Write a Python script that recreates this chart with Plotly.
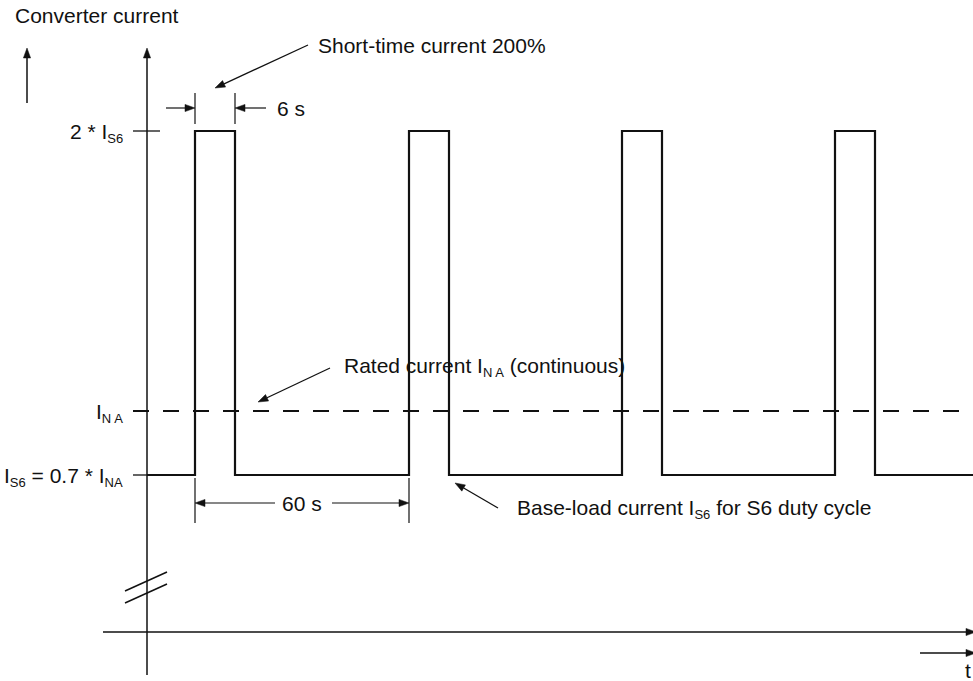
import numpy as np
import plotly.graph_objects as go

# Diagram units: 1 unit = 1 px, origin where the current and time axes cross.
pulse_starts = [48, 262, 475, 688]      # rising edges of the short-time pulses
pulse_width = 40                        # on-time drawn for each pulse (6 s)
t_end = 826                             # right end of the time axis
level_base = 157                        # I_S6 = 0.7 * I_NA
level_rated = 221                       # I_NA (continuous rated current)
level_peak = 501                        # 2 * I_S6


def sub(s):
    return f'<sub><span style="font-size:13px">{s}</span></sub>'


tick_labels = [f"2 * I{sub('S6')}", f"I{sub('N A')}", f"I{sub('S6')} = 0.7 * I{sub('NA')}"]
tick_levels = [level_peak, level_rated, level_base]

FONT = "Arial, Liberation Sans, sans-serif"
INK = "#111111"

# Build the duty-cycle waveform from the pulse list
wx, wy = [0], [level_base]
for s in pulse_starts:
    wx += [s, s, s + pulse_width, s + pulse_width]
    wy += [level_base, level_peak, level_peak, level_base]
wx.append(t_end)
wy.append(level_base)

fig = go.Figure()

# Rated current, dashed
fig.add_trace(go.Scatter(x=[-14, t_end], y=[level_rated, level_rated], mode="lines",
                         line=dict(color=INK, width=2, dash="16px,14px"),
                         hoverinfo="skip", showlegend=False))
# Converter current waveform
fig.add_trace(go.Scatter(x=wx, y=wy, mode="lines",
                         line=dict(color=INK, width=2.2),
                         hoverinfo="skip", showlegend=False))

shapes = []


def seg(x0, y0, x1, y1, w=1.3):
    shapes.append(dict(type="line", x0=x0, y0=y0, x1=x1, y1=y1, xref="x", yref="y",
                       line=dict(color=INK, width=w)))


def arrow(x0, y0, x1, y1, w=1.3, head=10.0, half=3.6):
    """Line from (x0,y0) to the tip (x1,y1) with a filled triangular head."""
    d = np.array([x1 - x0, y1 - y0], dtype=float)
    d /= np.hypot(*d)
    n = np.array([-d[1], d[0]])
    tip = np.array([x1, y1], dtype=float)
    base = tip - head * d
    a = base + half * n
    b = base - half * n
    seg(x0, y0, base[0], base[1], w)
    shapes.append(dict(type="path", xref="x", yref="y",
                       path=f"M{tip[0]:.2f},{tip[1]:.2f} L{a[0]:.2f},{a[1]:.2f} L{b[0]:.2f},{b[1]:.2f} Z",
                       fillcolor=INK, line=dict(color=INK, width=0.5)))


# Axes
arrow(0, -43, 0, 584, w=1.5)             # current axis
arrow(-44, 0, 829, 0, w=1.5)             # time axis
arrow(-120, 529, -120, 584, w=1.5)       # "Converter current" arrow
arrow(773, -21, 829, -21, w=1.5)         # "t" arrow

# Axis break marks
seg(-22, 41, 20, 60, 1.5)
seg(-22, 29, 20, 48, 1.5)

# Level ticks on the current axis
seg(-14, level_peak, 13, level_peak, 1.3)
seg(-14, level_base, 0, level_base, 1.3)

# 6 s dimension
p0 = pulse_starts[0]
seg(p0, 508, p0, 539, 1.2)
seg(p0 + pulse_width, 508, p0 + pulse_width, 539, 1.2)
arrow(19, 524, p0, 524, w=1.2)
arrow(119, 524, p0 + pulse_width, 524, w=1.2)

# 60 s dimension
p1 = pulse_starts[1]
seg(p0, 109, p0, 154, 1.2)
seg(p1, 109, p1, 154, 1.2)
arrow(128, 129, p0, 129, w=1.2)
arrow(185, 129, p1, 129, w=1.2)

# Callout arrows
arrow(161, 587, 68, 544, w=1.3)          # short-time current
arrow(183, 264, 111, 230, w=1.3)         # rated current
arrow(351, 124, 308, 149, w=1.3)         # base-load current

annotations = []


def label(x, y, text, xanchor="left", yshift=0):
    annotations.append(dict(x=x, y=y, xref="x", yref="y", text=text, showarrow=False,
                            xanchor=xanchor, yanchor="middle", yshift=yshift,
                            font=dict(family=FONT, size=21, color=INK)))


for txt, lv in zip(tick_labels, tick_levels):
    label(-22, lv, txt, xanchor="right", yshift=-2)

label(-134, 617, "Converter current")
label(169, 587, "Short-time current 200%")
label(128, 524, "6 s")
label(155, 129, "60 s", xanchor="center")
label(195, 267, f"Rated current I{sub('N A')} (continuous)", yshift=-2)
label(368, 125, f"Base-load current I{sub('S6')} for S6 duty cycle", yshift=-2)
label(821, -38, "t", xanchor="center")

fig.update_layout(
    width=973, height=681,
    margin=dict(l=0, r=0, t=0, b=0),
    paper_bgcolor="white", plot_bgcolor="white",
    xaxis=dict(range=[-147, 826], visible=False, fixedrange=True),
    yaxis=dict(range=[-49, 632], visible=False, fixedrange=True),
    shapes=shapes, annotations=annotations,
    showlegend=False,
)

fig.write_html("out.html")
